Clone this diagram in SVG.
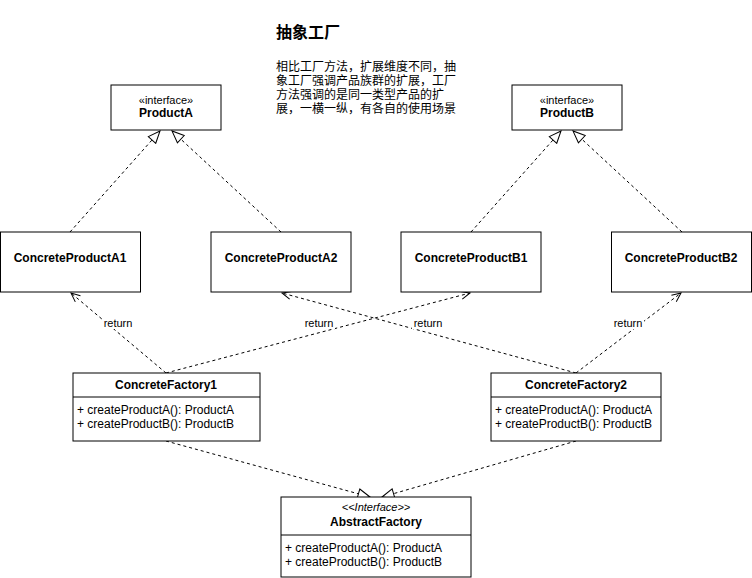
<svg xmlns="http://www.w3.org/2000/svg" width="752" height="578" viewBox="0 0 752 578">
<style>
.box{fill:#fff;stroke:#000;stroke-width:1}
.sep{stroke:#000;stroke-width:1}
.t{font-family:"Liberation Sans",Arial,sans-serif;font-size:12px;fill:#000}
.b{font-weight:bold}
.st{font-family:"Liberation Sans",Arial,sans-serif;font-size:11px;fill:#000}
.m{font-family:"Liberation Sans",Arial,sans-serif;font-size:12px;fill:#000}
.cn{font-family:"Liberation Sans","Noto Sans CJK SC",sans-serif;fill:#000}
.lbl{font-family:"Liberation Sans",Arial,sans-serif;font-size:11px;fill:#000}
.dash{fill:none;stroke:#000;stroke-width:1;stroke-dasharray:3 3}
</style>
<defs>
<marker id="tri" markerUnits="userSpaceOnUse" markerWidth="16" markerHeight="14" refX="13" refY="6" orient="auto">
<path d="M1,1 L13,6 L1,11 Z" fill="#fff" stroke="#000" stroke-width="1"/>
</marker>
<marker id="open" markerUnits="userSpaceOnUse" markerWidth="12" markerHeight="12" refX="10" refY="5" orient="auto">
<path d="M1,1 L10,5 L1,9" fill="none" stroke="#000" stroke-width="1"/>
</marker>
</defs>
<rect width="752" height="578" fill="#fff"/>

<g id="title">
<text class="cn b" x="276" y="38" font-size="16">抽象工厂</text>
<text class="cn" font-size="12">
<tspan x="276" y="71">相比工厂方法，扩展维度不同，抽</tspan>
<tspan x="276" y="85">象工厂强调产品族群的扩展，工厂</tspan>
<tspan x="276" y="99">方法强调的是同一类型产品的扩</tspan>
<tspan x="276" y="113">展，一横一纵，有各自的使用场景</tspan>
</text>
</g>

<g id="connectors">
<line class="dash" x1="70" y1="232" x2="160" y2="131" marker-end="url(#tri)"/>
<line class="dash" x1="281" y1="232" x2="172" y2="131" marker-end="url(#tri)"/>
<line class="dash" x1="471" y1="232" x2="561" y2="131" marker-end="url(#tri)"/>
<line class="dash" x1="682" y1="232" x2="573" y2="131" marker-end="url(#tri)"/>

<line class="dash" x1="166" y1="373" x2="71" y2="293" marker-end="url(#open)"/>
<line class="dash" x1="166" y1="373" x2="470" y2="293" marker-end="url(#open)"/>
<line class="dash" x1="576" y1="373" x2="282" y2="293" marker-end="url(#open)"/>
<line class="dash" x1="576" y1="373" x2="681" y2="293" marker-end="url(#open)"/>

<line class="dash" x1="166" y1="441" x2="370" y2="497" marker-end="url(#tri)"/>
<line class="dash" x1="576" y1="441" x2="382" y2="497" marker-end="url(#tri)"/>

<rect x="102" y="316" width="32" height="13" fill="#fff"/>
<text class="lbl" x="118" y="327" text-anchor="middle">return</text>
<rect x="303" y="316" width="32" height="13" fill="#fff"/>
<text class="lbl" x="319" y="327" text-anchor="middle">return</text>
<rect x="412" y="316" width="32" height="13" fill="#fff"/>
<text class="lbl" x="428" y="327" text-anchor="middle">return</text>
<rect x="612" y="316" width="32" height="13" fill="#fff"/>
<text class="lbl" x="628" y="327" text-anchor="middle">return</text>
</g>

<g id="productA">
<rect class="box" x="111" y="85" width="110" height="45"/>
<text class="st" x="166" y="104" text-anchor="middle">«interface»</text>
<text class="t b" x="166" y="117" text-anchor="middle">ProductA</text>
</g>
<g id="productB">
<rect class="box" x="512" y="85" width="110" height="45"/>
<text class="st" x="567" y="104" text-anchor="middle">«interface»</text>
<text class="t b" x="567" y="117" text-anchor="middle">ProductB</text>
</g>

<g id="concreteProductA1">
<rect class="box" x="0.5" y="232" width="140" height="60"/>
<text class="t b" x="70" y="262" text-anchor="middle">ConcreteProductA1</text>
</g>
<g id="concreteProductA2">
<rect class="box" x="211" y="232" width="140" height="60"/>
<text class="t b" x="281" y="262" text-anchor="middle">ConcreteProductA2</text>
</g>
<g id="concreteProductB1">
<rect class="box" x="401" y="232" width="140" height="60"/>
<text class="t b" x="471" y="262" text-anchor="middle">ConcreteProductB1</text>
</g>
<g id="concreteProductB2">
<rect class="box" x="611.5" y="232" width="140" height="60"/>
<text class="t b" x="681" y="262" text-anchor="middle">ConcreteProductB2</text>
</g>

<g id="concreteFactory1">
<rect class="box" x="73" y="373" width="187" height="68"/>
<line class="sep" x1="73" y1="397" x2="260" y2="397"/>
<text class="t b" x="166" y="389" text-anchor="middle">ConcreteFactory1</text>
<text class="m" x="77" y="414">+ createProductA(): ProductA</text>
<text class="m" x="77" y="428">+ createProductB(): ProductB</text>
</g>
<g id="concreteFactory2">
<rect class="box" x="491" y="373" width="170" height="68"/>
<line class="sep" x1="491" y1="397" x2="661" y2="397"/>
<text class="t b" x="576" y="389" text-anchor="middle">ConcreteFactory2</text>
<text class="m" x="495" y="414">+ createProductA(): ProductA</text>
<text class="m" x="495" y="428">+ createProductB(): ProductB</text>
</g>

<g id="abstractFactory">
<rect class="box" x="281" y="497" width="190" height="80"/>
<line class="sep" x1="281" y1="535" x2="471" y2="535"/>
<text class="st" x="376" y="511" text-anchor="middle" font-style="italic">&lt;&lt;Interface&gt;&gt;</text>
<text class="t b" x="376" y="526" text-anchor="middle">AbstractFactory</text>
<text class="m" x="285" y="552">+ createProductA(): ProductA</text>
<text class="m" x="285" y="566">+ createProductB(): ProductB</text>
</g>
</svg>
